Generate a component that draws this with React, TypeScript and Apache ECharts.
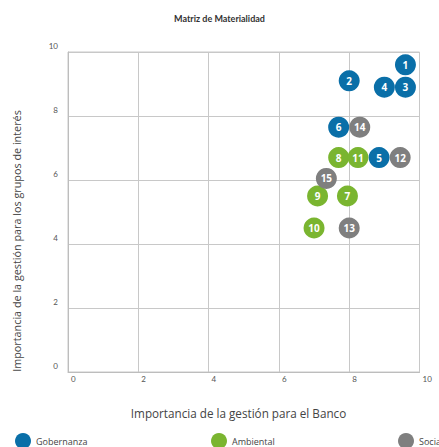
import React, { useEffect, useRef } from "react";
import * as echarts from "echarts";

const seriesNames = ["Gobernanza", "Ambiental", "Social"];
const seriesColors = ["#0a6fa8", "#7ab530", "#7f7f7f"];

const gobernanzaIds = [1, 2, 3, 4, 5, 6];
const gobernanzaX = [9.6, 8.0, 9.6, 9.0, 8.85, 7.7];
const gobernanzaY = [9.6, 9.1, 8.9, 8.9, 6.7, 7.65];

const ambientalIds = [7, 8, 9, 10, 11];
const ambientalX = [7.95, 7.7, 7.1, 7.0, 8.25];
const ambientalY = [5.5, 6.7, 5.5, 4.5, 6.7];

const socialIds = [12, 13, 14, 15];
const socialX = [9.45, 8.0, 8.3, 7.35];
const socialY = [6.7, 4.5, 7.65, 6.05];

const axisTicks = [0, 2, 4, 6, 8, 10];

const FONT = "Lato, 'Open Sans', sans-serif";
const FONT2 = "'Open Sans', Lato, sans-serif";

function build(ids: number[], xs: number[], ys: number[]) {
  return ids.map((id, i) => [xs[i], ys[i], id]);
}

export default function App() {
  const ref = useRef<HTMLDivElement>(null);
  useEffect(() => {
    if (!ref.current) return;
    const chart = echarts.init(ref.current, undefined, { renderer: "svg" });
    const groups = [
      build(gobernanzaIds, gobernanzaX, gobernanzaY),
      build(ambientalIds, ambientalX, ambientalY),
      build(socialIds, socialX, socialY),
    ];
    const legendLefts = [10, 206, 393];
    chart.setOption({
      animation: false,
      textStyle: { fontFamily: FONT },
      title: {
        text: "Matriz de Materialidad",
        left: "center",
        top: 9,
        textStyle: { fontSize: 9, fontWeight: "bold", color: "#333", fontFamily: FONT },
      },
      legend: seriesNames.map((n, i) => ({
        data: [n],
        left: legendLefts[i],
        top: 428,
        icon: "circle",
        itemWidth: 16,
        itemHeight: 16,
        textStyle: { fontSize: 9, color: "#444", fontFamily: FONT2 },
        selectedMode: false,
      })),
      grid: { left: 68, right: 19.5, top: 52, bottom: 75 },
      xAxis: {
        type: "value",
        min: 0,
        max: 10,
        interval: 2,
        axisLine: { show: true, lineStyle: { color: "#bdbdbd", width: 1 } },
        axisTick: { show: false },
        splitLine: { show: true, lineStyle: { color: "#c8c8c8", width: 1 } },
        axisLabel: {
          fontSize: 8,
          color: "#555",
          align: "left",
          margin: 3,
          padding: [0, 0, 0, 3],
          showMaxLabel: true,
          showMinLabel: true,
          formatter: (v: number) => (axisTicks.includes(v) ? String(v) : ""),
        },
      },
      yAxis: {
        type: "value",
        min: 0,
        max: 10,
        interval: 2,
        axisLine: { show: true, lineStyle: { color: "#bdbdbd", width: 1 } },
        axisTick: { show: false },
        splitLine: { show: true, lineStyle: { color: "#c8c8c8", width: 1 } },
        axisLabel: {
          fontSize: 8,
          color: "#555",
          verticalAlign: "bottom",
          margin: 10,
          padding: [0, 0, 2, 0],
          formatter: (v: number) => (axisTicks.includes(v) ? String(v) : ""),
        },
      },
      graphic: [
        {
          type: "rect",
          shape: { x: 68, y: 52, width: 351.5, height: 320 },
          style: { fill: "none", stroke: "#c8c8c8", lineWidth: 1 },
          silent: true,
          z: 0,
        },
        {
          type: "text",
          x: 238.5,
          y: 413,
          style: {
            text: "Importancia de la gestión para el Banco",
            fontSize: 11.7,
            fill: "#444",
            fontFamily: FONT2,
            textAlign: "center",
            textVerticalAlign: "middle",
          },
        },
        {
          type: "text",
          x: 16,
          y: 241,
          rotation: Math.PI / 2,
          style: {
            text: "Importancia de la gestión para los grupos de interés",
            fontSize: 10.8,
            fill: "#444",
            fontFamily: FONT2,
            textAlign: "center",
            textVerticalAlign: "middle",
          },
        },
      ],
      series: groups.map((data, i) => ({
        name: seriesNames[i],
        type: "scatter",
        symbol: "circle",
        symbolSize: 21,
        itemStyle: { color: seriesColors[i], opacity: 1 },
        label: {
          show: true,
          position: "inside",
          formatter: (p: any) => String(p.value[2]),
          color: "#fff",
          fontSize: 10,
          fontWeight: "bold",
          fontFamily: FONT2,
        },
        data,
      })),
    });
    return () => chart.dispose();
  }, []);
  return <div ref={ref} style={{ width: 439, height: 447, position: "absolute", left: 0, top: 0 }} />;
}
